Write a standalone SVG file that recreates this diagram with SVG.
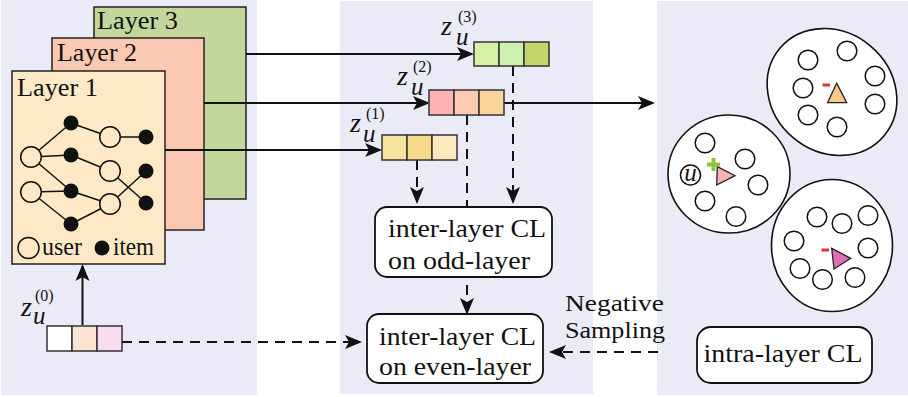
<svg xmlns="http://www.w3.org/2000/svg" width="908" height="397" viewBox="0 0 908 397">
<defs>
<marker id="ah" markerUnits="userSpaceOnUse" markerWidth="18" markerHeight="14" refX="15" refY="7" orient="auto" overflow="visible">
<path d="M0,0 L17,7 L0,14 L4,7 Z" fill="#111"/>
</marker>
</defs>
<style>
.panel{fill:#ebebf8}
.t{font-family:'Liberation Serif','Times New Roman',Times,serif;fill:#111}
.it{font-family:'Liberation Serif','Times New Roman',Times,serif;font-style:italic;fill:#111}
.up{font-style:normal}
.box{stroke:#222;stroke-width:1.5}
.ln{stroke:#111;stroke-width:2;fill:none}
.dash{stroke:#111;stroke-width:2;fill:none;stroke-dasharray:10 7}
.uc{fill:#fde9c5;stroke:#111;stroke-width:1.5}
.ic{fill:#111}
.ed{stroke:#111;stroke-width:1.5}
.cell{stroke:#333;stroke-width:1.5}
.cl{fill:#fff;stroke:#111;stroke-width:1.8}
.big{fill:#fff;stroke:#111;stroke-width:1.6}
.sm{fill:#fff;stroke:#111;stroke-width:1.5}
</style>

<g id="panels">
<rect class="panel" x="1" y="0" width="256" height="395"/>
<rect class="panel" x="340" y="1" width="253" height="393"/>
<rect class="panel" x="657" y="1" width="251" height="394"/>
</g>

<g id="layer3">
<rect class="box" x="94" y="7" width="152" height="192" fill="#c3d69b"/>
<text class="t" x="97" y="29" font-size="25" textLength="81" lengthAdjust="spacingAndGlyphs">Layer 3</text>
</g>
<g id="layer2">
<rect class="box" x="52" y="38" width="152" height="192" fill="#fbc9b1"/>
<text class="t" x="57" y="61" font-size="25" textLength="80" lengthAdjust="spacingAndGlyphs">Layer 2</text>
</g>
<g id="layer1">
<rect class="box" x="12" y="71" width="153" height="193" fill="#fde9c5"/>
<text class="t" x="17" y="96" font-size="25" textLength="81" lengthAdjust="spacingAndGlyphs">Layer 1</text>
<g id="graph">
<line class="ed" x1="31" y1="157" x2="71" y2="123"/>
<line class="ed" x1="31" y1="157" x2="71" y2="155"/>
<line class="ed" x1="31" y1="157" x2="71" y2="191"/>
<line class="ed" x1="31" y1="192" x2="71" y2="191"/>
<line class="ed" x1="31" y1="192" x2="71" y2="224"/>
<line class="ed" x1="71" y1="123" x2="110" y2="137"/>
<line class="ed" x1="71" y1="155" x2="110" y2="171"/>
<line class="ed" x1="71" y1="191" x2="110" y2="204"/>
<line class="ed" x1="71" y1="224" x2="110" y2="204"/>
<line class="ed" x1="110" y1="137" x2="146" y2="137"/>
<line class="ed" x1="110" y1="171" x2="146" y2="203"/>
<line class="ed" x1="110" y1="204" x2="146" y2="171"/>
<circle class="uc" cx="31" cy="157" r="10.3"/>
<circle class="uc" cx="31" cy="192" r="10.3"/>
<circle class="ic" cx="71" cy="123" r="7.5"/>
<circle class="ic" cx="71" cy="155" r="7.5"/>
<circle class="ic" cx="71" cy="191" r="7.5"/>
<circle class="ic" cx="71" cy="224" r="7.5"/>
<circle class="uc" cx="110" cy="137" r="10.3"/>
<circle class="uc" cx="110" cy="171" r="10.3"/>
<circle class="uc" cx="110" cy="204" r="10.3"/>
<circle class="ic" cx="146" cy="137" r="7.5"/>
<circle class="ic" cx="146" cy="171" r="7.5"/>
<circle class="ic" cx="146" cy="203" r="7.5"/>
</g>
<g id="legend">
<circle class="uc" cx="28.5" cy="248" r="10.5"/>
<text class="t" x="42" y="255" font-size="25" textLength="40" lengthAdjust="spacingAndGlyphs">user</text>
<circle class="ic" cx="102" cy="248" r="7.5"/>
<text class="t" x="113" y="255" font-size="25" textLength="41" lengthAdjust="spacingAndGlyphs">item</text>
</g>
</g>

<g id="connectors">
<line class="ln" x1="246" y1="54" x2="472" y2="54" marker-end="url(#ah)"/>
<line class="ln" x1="204" y1="103" x2="428" y2="103" marker-end="url(#ah)"/>
<line class="ln" x1="504" y1="103" x2="653" y2="103" marker-end="url(#ah)"/>
<line class="ln" x1="165" y1="150" x2="380" y2="150" marker-end="url(#ah)"/>
<line class="ln" x1="82.5" y1="325" x2="82.5" y2="266" marker-end="url(#ah)"/>
<line class="dash" x1="417" y1="160" x2="417" y2="202" marker-end="url(#ah)"/>
<line class="dash" x1="513" y1="66" x2="513" y2="202" marker-end="url(#ah)"/>
<line class="dash" x1="467" y1="115" x2="467" y2="313" marker-end="url(#ah)"/>
<line class="dash" x1="122" y1="342" x2="360" y2="342" marker-end="url(#ah)"/>
<line class="dash" x1="658" y1="352" x2="551" y2="352" marker-end="url(#ah)"/>
</g>

<g id="z3">
<rect class="cell" x="474" y="42" width="25" height="24" fill="#d7f1a9"/>
<rect class="cell" x="499" y="42" width="25" height="24" fill="#cdf0b1"/>
<rect class="cell" x="524" y="42" width="25" height="24" fill="#c3d66e"/>
<text class="it" x="441" y="35" font-size="28">z<tspan x="456" y="45" font-size="25">u</tspan><tspan class="up" x="458" y="22" font-size="16">(3)</tspan></text>
</g>
<g id="z2">
<rect class="cell" x="429" y="90" width="25" height="25" fill="#ffb3b3"/>
<rect class="cell" x="454" y="90" width="25" height="25" fill="#fccbb1"/>
<rect class="cell" x="479" y="90" width="25" height="25" fill="#f9d59b"/>
<text class="it" x="397" y="85" font-size="28">z<tspan x="411" y="95" font-size="25">u</tspan><tspan class="up" x="413" y="72" font-size="16">(2)</tspan></text>
</g>
<g id="z1">
<rect class="cell" x="382" y="135" width="25" height="25" fill="#f5e39e"/>
<rect class="cell" x="407" y="135" width="25" height="25" fill="#f6da87"/>
<rect class="cell" x="432" y="135" width="25" height="25" fill="#fbe8bd"/>
<text class="it" x="350" y="132" font-size="28">z<tspan x="363" y="142" font-size="25">u</tspan><tspan class="up" x="366" y="119" font-size="16">(1)</tspan></text>
</g>
<g id="z0">
<rect class="cell" x="47" y="326" width="25" height="25" fill="#ffffff"/>
<rect class="cell" x="72" y="326" width="25" height="25" fill="#fde4d2"/>
<rect class="cell" x="97" y="326" width="25" height="25" fill="#f8dcf2"/>
<text class="it" x="21" y="316" font-size="28">z<tspan x="33" y="324" font-size="25">u</tspan><tspan class="up" x="35" y="301" font-size="16">(0)</tspan></text>
</g>

<g id="odd-cl">
<rect class="cl" x="375" y="207" width="177" height="70" rx="12"/>
<text class="t" x="388" y="237" font-size="26" textLength="158" lengthAdjust="spacingAndGlyphs">inter-layer CL</text>
<text class="t" x="388" y="269" font-size="26" textLength="142" lengthAdjust="spacingAndGlyphs">on odd-layer</text>
</g>
<g id="even-cl">
<rect class="cl" x="367" y="314" width="176" height="69" rx="12"/>
<text class="t" x="379" y="345" font-size="26" textLength="157" lengthAdjust="spacingAndGlyphs">inter-layer CL</text>
<text class="t" x="379" y="375" font-size="26" textLength="152" lengthAdjust="spacingAndGlyphs">on even-layer</text>
</g>
<g id="neg-label">
<text class="t" x="565" y="311" font-size="24" textLength="99" lengthAdjust="spacingAndGlyphs">Negative</text>
<text class="t" x="565" y="338" font-size="24" textLength="100" lengthAdjust="spacingAndGlyphs">Sampling</text>
</g>

<g id="cluster-top">
<ellipse class="big" cx="832" cy="92" rx="68" ry="60" transform="rotate(40 832 92)"/>
<circle class="sm" cx="808" cy="60" r="9.8"/>
<circle class="sm" cx="847" cy="51" r="9.8"/>
<circle class="sm" cx="875" cy="76" r="9.8"/>
<circle class="sm" cx="803" cy="88" r="9.8"/>
<circle class="sm" cx="875" cy="104" r="9.8"/>
<circle class="sm" cx="808" cy="115" r="9.8"/>
<circle class="sm" cx="837" cy="127" r="9.8"/>
<polygon points="827.5,102.7 836.7,83.3 846.7,102.7" fill="#f9c98e" stroke="#222" stroke-width="1.3"/>
<rect x="822.5" y="83.5" width="7.5" height="3" fill="#e8302a"/>
</g>
<g id="cluster-left">
<ellipse class="big" cx="729" cy="174" rx="61" ry="59"/>
<circle class="sm" cx="705" cy="143" r="9.8"/>
<circle class="sm" cx="745" cy="159" r="9.8"/>
<circle class="sm" cx="758" cy="185" r="9.8"/>
<circle class="sm" cx="705" cy="201" r="9.8"/>
<circle class="sm" cx="736" cy="216.5" r="9.8"/>
<circle class="sm" cx="690.5" cy="175" r="10"/>
<text class="it" x="690.5" y="181" font-size="25" text-anchor="middle">u</text>
<polygon points="717.3,166.7 735,175.7 716.7,185" fill="#fbb3b3" stroke="#222" stroke-width="1.3"/>
<path d="M707,164.5 H720 M713.5,158 V171" stroke="#8cc63e" stroke-width="4"/>
</g>
<g id="cluster-right">
<ellipse class="big" cx="832" cy="245.5" rx="60.5" ry="66"/>
<circle class="sm" cx="817" cy="217" r="9.8"/>
<circle class="sm" cx="842" cy="223.5" r="9.8"/>
<circle class="sm" cx="868" cy="215.5" r="9.8"/>
<circle class="sm" cx="794" cy="241" r="9.8"/>
<circle class="sm" cx="868" cy="248" r="9.8"/>
<circle class="sm" cx="800" cy="268.5" r="9.8"/>
<circle class="sm" cx="822.5" cy="279.5" r="9.8"/>
<circle class="sm" cx="855" cy="277.5" r="9.8"/>
<polygon points="831.7,248.3 850.7,258.3 834,269" fill="#de6fb2" stroke="#222" stroke-width="1.3"/>
<rect x="821.5" y="248.5" width="7.5" height="3" fill="#e8302a"/>
</g>
<g id="intra-cl">
<rect class="cl" x="697" y="327" width="175" height="56" rx="14"/>
<text class="t" x="703.5" y="362" font-size="26" textLength="159" lengthAdjust="spacingAndGlyphs">intra-layer CL</text>
</g>
</svg>
